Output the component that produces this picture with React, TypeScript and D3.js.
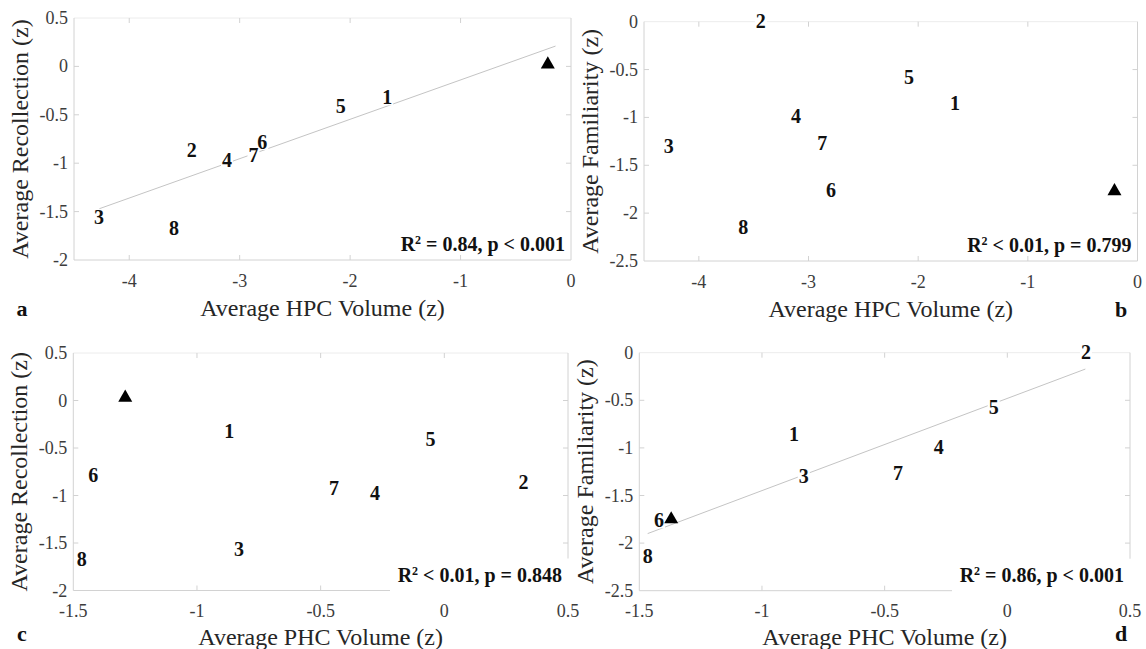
import React from "react";
import * as d3 from "d3";

// subject labels and values (label = left edge / vertical middle of the digit)
const subjects = ["1", "2", "3", "4", "5", "6", "7", "8"];
const hpcVolume = [-1.71, -3.48, -4.32, -3.16, -2.13, -2.84, -2.92, -3.64];
const phcVolume = [-0.89, 0.3, -0.85, -0.3, -0.076, -1.44, -0.466, -1.486];
const recollection = [-0.32, -0.86, -1.56, -0.97, -0.41, -0.78, -0.92, -1.67];
const familiarity = [-0.85, 0.01, -1.3, -0.99, -0.575, -1.76, -1.265, -2.14];

// patient (triangle) per panel a, b, c, d
const patientMarkers = [
  [-0.21, 0.02],
  [-0.21, -1.77],
  [-1.29, 0.03],
  [-1.37, -1.75],
];

// least-squares fit lines (panels a and d)
const fitA = [[-4.27, -1.47], [-0.14, 0.21]];
const fitD = [[-1.466, -1.9], [0.318, -0.172]];

const statText = [
  " = 0.84, p < 0.001",
  " < 0.01, p = 0.799",
  " < 0.01, p = 0.848",
  " = 0.86, p < 0.001",
];

const hpcTicks = [-4, -3, -2, -1, 0];
const phcTicks = [-1.5, -1, -0.5, 0, 0.5];
const recTicks = [-2, -1.5, -1, -0.5, 0, 0.5];
const famTicks = [-2.5, -2, -1.5, -1, -0.5, 0];

const xLabels = ["Average HPC Volume (z)", "Average HPC Volume (z)", "Average PHC Volume (z)", "Average PHC Volume (z)"];
const yLabels = ["Average Recollection (z)", "Average Familiarity (z)", "Average Recollection (z)", "Average Familiarity (z)"];
const panelLetters = ["a", "b", "c", "d"];

const FONT = "'Liberation Serif', 'Times New Roman', serif";

const panels = [
  { left: 74, right: 571, top: 18, bottom: 260, xDomain: [-4.5, 0], yDomain: [-2, 0.5], xs: hpcVolume, ys: recollection, xTicks: hpcTicks, yTicks: recTicks, fit: fitA, box: false, letterX: 22, letterDy: 48, xLabDy: 48 },
  { left: 644, right: 1137.5, top: 21.7, bottom: 261, xDomain: [-4.5, 0], yDomain: [-2.5, 0], xs: hpcVolume, ys: familiarity, xTicks: hpcTicks, yTicks: famTicks, fit: null, box: false, letterX: 1121, letterDy: 48, xLabDy: 48 },
  { left: 73.3, right: 568, top: 353, bottom: 590.5, xDomain: [-1.5, 0.5], yDomain: [-2, 0.5], xs: phcVolume, ys: recollection, xTicks: phcTicks, yTicks: recTicks, fit: null, box: true, letterX: 22, letterDy: 43, xLabDy: 46 },
  { left: 639.3, right: 1130, top: 352.7, bottom: 590.7, xDomain: [-1.5, 0.5], yDomain: [-2.5, 0], xs: phcVolume, ys: familiarity, xTicks: phcTicks, yTicks: famTicks, fit: fitD, box: true, letterX: 1121, letterDy: 43, xLabDy: 46 },
];

const triangle = d3.symbol().type(d3.symbolTriangle).size(85);

function Panel({ p, i }: { p: any; i: number }) {
  const x = d3.scaleLinear().domain(p.xDomain).range([p.left, p.right]);
  const y = d3.scaleLinear().domain(p.yDomain).range([p.bottom, p.top]);
  const fitLine = d3.line<number[]>().x((d) => x(d[0])).y((d) => y(d[1]));
  const axisCol = "#d2d2d2";
  const tl = 5;
  const [px, py] = patientMarkers[i];
  return (
    <g>
      {/* box */}
      <line x1={p.left} x2={p.right} y1={p.top} y2={p.top} stroke="#ececec" />
      <line x1={p.right} x2={p.right} y1={p.top} y2={p.bottom} stroke={axisCol} />
      <line x1={p.left} x2={p.left} y1={p.top} y2={p.bottom} stroke={axisCol} />
      <line x1={p.left} x2={p.right} y1={p.bottom} y2={p.bottom} stroke={axisCol} />
      {/* ticks */}
      {p.xTicks.map((t: number) => (
        <g key={"x" + t}>
          {x(t) > p.left + 1 && x(t) < p.right - 1 && (
            <>
              <line x1={x(t)} x2={x(t)} y1={p.bottom} y2={p.bottom - tl} stroke={axisCol} />
              <line x1={x(t)} x2={x(t)} y1={p.top} y2={p.top + tl} stroke={axisCol} />
            </>
          )}
          <text x={x(t)} y={p.bottom + 20.5} textAnchor="middle" dominantBaseline="central" fontSize={18} fill="#3c3c3c" fontFamily={FONT}>
            {String(t)}
          </text>
        </g>
      ))}
      {p.yTicks.map((t: number) => (
        <g key={"y" + t}>
          {y(t) > p.top + 1 && y(t) < p.bottom - 1 && (
            <>
              <line x1={p.left} x2={p.left + tl} y1={y(t)} y2={y(t)} stroke={axisCol} />
              <line x1={p.right} x2={p.right - tl} y1={y(t)} y2={y(t)} stroke={axisCol} />
            </>
          )}
          <text x={p.left - 6} y={y(t)} textAnchor="end" dominantBaseline="central" fontSize={18} fill="#3c3c3c" fontFamily={FONT}>
            {String(t)}
          </text>
        </g>
      ))}
      {/* fit */}
      {p.fit && <path d={fitLine(p.fit) || ""} fill="none" stroke="#c4c4c4" strokeWidth={1} />}
      {/* subject labels */}
      {subjects.map((s, k) => (
        <g key={s}>
          <rect x={x(p.xs[k]) - 1} y={y(p.ys[k]) - 8} width={12} height={16} fill="#fff" />
          <text x={x(p.xs[k])} y={y(p.ys[k])} dominantBaseline="central" fontSize={20} fontWeight="bold" fill="#111" fontFamily={FONT}>
            {s}
          </text>
        </g>
      ))}
      <path d={triangle() || ""} transform={`translate(${x(px)},${y(py)})`} fill="#000" />
      {/* stats */}
      {p.box && <rect x={p.right - 178} y={p.bottom - 32} width={182} height={36} fill="#fff" />}
      <text x={p.right - 6} y={p.bottom - 9} textAnchor="end" fontSize={20} fontWeight="bold" fill="#111" fontFamily={FONT}>
        R<tspan fontSize={12} dy={-7}>2</tspan>
        <tspan dy={7}>{statText[i]}</tspan>
      </text>
      {/* axis labels */}
      <text x={(p.left + p.right) / 2} y={p.bottom + p.xLabDy} textAnchor="middle" dominantBaseline="central" fontSize={24} fill="#262626" fontFamily={FONT}>
        {xLabels[i]}
      </text>
      <text transform={`translate(${p.left - 46},${(p.top + p.bottom) / 2}) rotate(-90)`} textAnchor="middle" fontSize={24} fill="#262626" fontFamily={FONT}>
        {yLabels[i]}
      </text>
      <text x={p.letterX} y={p.bottom + p.letterDy} textAnchor="middle" dominantBaseline="central" fontSize={22} fontWeight="bold" fill="#111" fontFamily={FONT}>
        {panelLetters[i]}
      </text>
    </g>
  );
}

export default function App() {
  return (
    <svg width={1146} height={649} style={{ position: "absolute", left: 0, top: 0, background: "#fff" }}>
      <rect width={1146} height={649} fill="#fff" />
      {panels.map((p, i) => (
        <Panel key={i} p={p} i={i} />
      ))}
    </svg>
  );
}
